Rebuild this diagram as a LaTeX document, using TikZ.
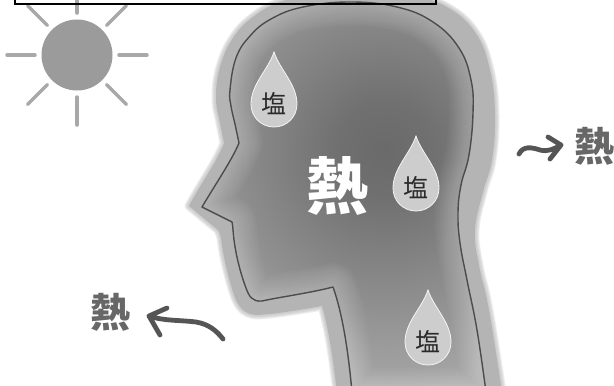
\documentclass[tikz,border=0pt]{standalone}
\usepackage{fontspec}
\newfontfamily\jp{Noto Sans CJK JP}
\begin{document}
\definecolor{sunfill}{HTML}{9B9B9B}
\definecolor{sunray}{HTML}{A8A8A8}
\definecolor{halofill}{HTML}{B4B4B4}
\definecolor{outline}{HTML}{4C4C4C}
\definecolor{hc0}{HTML}{6A6A6A}
\definecolor{hc1}{HTML}{707070}
\definecolor{hc2}{HTML}{7E7E7E}
\definecolor{hc3}{HTML}{8C8C8C}
\definecolor{hc4}{HTML}{9A9A9A}
\definecolor{hc5}{HTML}{A6A6A6}
\definecolor{dropfill}{HTML}{CDCDCD}
\definecolor{saltink}{HTML}{2A2A2A}
\definecolor{heatink}{HTML}{676767}
\definecolor{arrowink}{HTML}{555555}
% radial ramp; the circle it fills spans 25bp from its centre
\pgfdeclareradialshading{headglow}{\pgfpoint{0bp}{0bp}}{%
  color(0bp)=(hc0); color(4bp)=(hc1); color(8bp)=(hc2);
  color(12bp)=(hc3); color(16bp)=(hc4); color(20bp)=(hc5); color(50bp)=(hc5)}
% outline of the head and neck
\newcommand\headoutline{(352,392) .. controls (349,360) and (344,318) .. (333,287)
  .. controls (310,293) and (280,297) .. (262,301)
  .. controls (252,302) and (249,296) .. (246,288)
  .. controls (240,272) and (236,255) .. (234,240)
  .. controls (233,232) and (233,226) .. (232,222)
  -- (202,207)
  .. controls (215,185) and (232,160) .. (239,143)
  -- plot[smooth, tension=0.7] coordinates {(239,143) (235,124) (231,106) (230,90)
     (236,58) (250,36) (271,19) (303,7) (350,2) (397,7) (433,22) (459,48) (471,80)
     (473,113) (469,155) (461,185) (458,213) (460,243) (467,280) (477,330) (486,392)}
  -- cycle}
% soft rim around the silhouette
\newcommand\halooutline{(337,392) .. controls (333,360) and (329,330) .. (322,306)
  .. controls (300,310) and (275,314) .. (258,315)
  .. controls (243,315) and (237,305) .. (233,292)
  .. controls (227,272) and (223,255) .. (221,238)
  .. controls (220,234) and (219,232) .. (218,230)
  -- (189,206)
  .. controls (200,185) and (218,160) .. (224,143)
  -- plot[smooth, tension=0.7] coordinates {(224,143) (220,123) (216,98) (220,67)
     (233,38) (253,17) (280,2) (320,-8) (360,-10) (405,-6) (445,6) (475,32) (490,70)
     (495,115) (492,160) (483,192) (475,230) (479,265) (489,310) (502,392)}
  -- cycle}
% a drop of sweat: centre and radius of the round part
\newcommand\sweatdrop[3]{%
  \fill[dropfill, draw=white!80!dropfill, line width=0.8]
    (#1,#2-2.26*#3) .. controls (#1+0.25*#3,#2-1.5*#3) and (#1+#3,#2-0.85*#3) .. (#1+#3,#2)
    .. controls (#1+#3,#2+0.56*#3) and (#1+0.56*#3,#2+#3) .. (#1,#2+#3)
    .. controls (#1-0.56*#3,#2+#3) and (#1-#3,#2+0.56*#3) .. (#1-#3,#2)
    .. controls (#1-#3,#2-0.85*#3) and (#1-0.25*#3,#2-1.5*#3) .. cycle;}
\begin{tikzpicture}[x=1pt, y=-1pt,
  ray/.style={sunray, line width=3.5, line cap=round},
  arrowline/.style={arrowink, line width=4.8, line cap=round, line join=round},
  saltlabel/.style={inner sep=0, text=saltink, font=\jp\fontsize{25}{25}\selectfont},
  sidelabel/.style={inner sep=0, text=heatink, font=\jp\bfseries\fontsize{40}{40}\selectfont},
  biglabel/.style={inner sep=0, text=white, font=\jp\bfseries\fontsize{62}{62}\selectfont}]
\useasboundingbox (0,0) rectangle (614,386);
\begin{scope}
\clip (0,0) rectangle (614,386);
\fill[white] (0,0) rectangle (614,386);

% sun
\node[circle, fill=sunfill, minimum size=71, inner sep=0] (sun) at (77,55) {};
\foreach \a in {0,45,...,315}
  \draw[ray] (sun.center) ++(\a:42) -- ++(\a:28);

% head: soft rim, body with shading, inner glow and outline
\foreach \w in {9,7,5,3}
  \draw[halofill, opacity=0.22, line width=\w, line join=round] \halooutline;
\fill[halofill] \halooutline;
\begin{scope}
  \clip \headoutline;
  \shade[shading=headglow] (385,150) circle (300);
  \foreach \w in {48,44,...,4}
    \draw[white, opacity=0.028, line width=\w, line join=round] \headoutline;
\end{scope}
\draw[outline, line width=1.4, line join=round] \headoutline;

% drops of sweat
\sweatdrop{274}{104}{23}
\sweatdrop{416}{188}{23}
\sweatdrop{428}{342}{23}
\node[saltlabel] (salt1) at (274,104) {塩};
\node[saltlabel] (salt2) at (416,188) {塩};
\node[saltlabel] (salt3) at (428,342) {塩};

% heat inside and leaving the body
\node[biglabel] (heatC) at (337,186) {熱};
\node[sidelabel] (heatR) at (594,146) {熱};
\node[sidelabel] (heatL) at (110,312) {熱};

\coordinate (rStart) at (519,154);
\coordinate (rTip) at (561,145);
\draw[arrowline] (rStart) .. controls (523,146) and (531,147) .. (540,150)
  .. controls (548,152) and (554,149) .. (rTip)
  (rTip) ++(-13,-8) -- (rTip) -- ++(-11,14);

\coordinate (lStart) at (223,339);
\coordinate (lTip) at (149,316);
\draw[arrowline] (lStart) .. controls (216,330) and (208,324) .. (196,322)
  .. controls (180,320) and (163,321) .. (lTip)
  (lTip) ++(18,-8) -- (lTip) -- ++(11,19);

% frame along the top
\draw[black, line width=2] (14.5,-10) rectangle (436,3.5);
\end{scope}
\end{tikzpicture}
\end{document}
